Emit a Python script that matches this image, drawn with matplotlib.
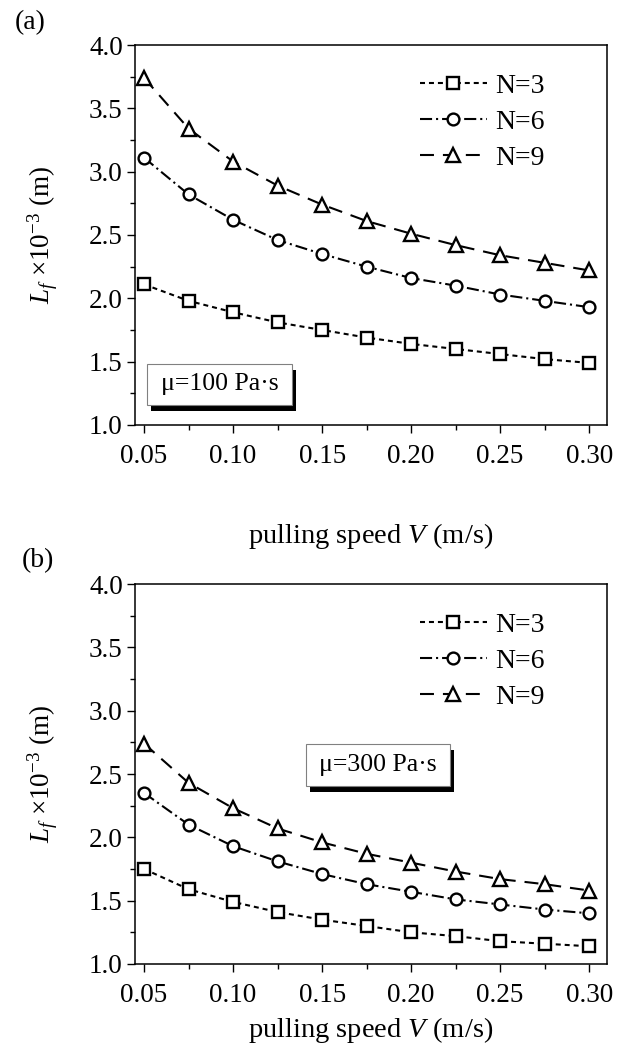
import numpy as np
import matplotlib
matplotlib.use("Agg")
import matplotlib.pyplot as plt
import matplotlib.patches as mpatches
from matplotlib.ticker import MultipleLocator

plt.rcParams['font.family'] = ['Liberation Serif', 'DejaVu Serif']
plt.rcParams['mathtext.fontset'] = 'custom'
plt.rcParams['mathtext.rm'] = 'Liberation Serif'
plt.rcParams['mathtext.it'] = 'Liberation Serif:italic'

# pulling speed V (m/s)
speed = [0.05, 0.075, 0.10, 0.125, 0.15, 0.175, 0.20, 0.225, 0.25, 0.275, 0.30]

# panel (a), mu = 100 Pa.s
a_n3 = [2.11, 1.98, 1.89, 1.81, 1.75, 1.69, 1.64, 1.60, 1.56, 1.52, 1.49]
a_n6 = [3.11, 2.82, 2.62, 2.46, 2.35, 2.25, 2.16, 2.10, 2.03, 1.98, 1.93]
a_n9 = [3.74, 3.34, 3.08, 2.89, 2.74, 2.61, 2.51, 2.42, 2.34, 2.28, 2.22]

# panel (b), mu = 300 Pa.s
b_n3 = [1.75, 1.59, 1.49, 1.41, 1.35, 1.30, 1.25, 1.22, 1.18, 1.16, 1.14]
b_n6 = [2.35, 2.10, 1.93, 1.81, 1.71, 1.63, 1.57, 1.51, 1.47, 1.43, 1.40]
b_n9 = [2.74, 2.43, 2.23, 2.07, 1.96, 1.87, 1.80, 1.73, 1.67, 1.63, 1.58]

labels = ['N=3', 'N=6', 'N=9']
markers = ['s', 'o', '^']
dashes = [(2.4, 1.9), (5.8, 1.9, 1, 1.9), (6.7, 4.3)]

fig = plt.figure(figsize=(6.17, 10.54), dpi=100)
ax1 = fig.add_axes([0.2188, 0.5968, 0.765, 0.3605])
ax2 = fig.add_axes([0.2188, 0.0854, 0.765, 0.3605])


def draw(ax, series, note, box, xpad):
    for ys, lab, m, d in zip(series, labels, markers, dashes):
        ax.plot(speed, ys, color='k', lw=1.5, dashes=d, marker=m,
                markersize=8.5 if m != '^' else 10, markerfacecolor='white',
                markeredgecolor='k', markeredgewidth=1.7, label=lab,
                clip_on=False, zorder=3)
    ax.set_xlim(0.0449, 0.310)
    ax.set_ylim(1.0, 4.0)
    ax.xaxis.set_major_locator(MultipleLocator(0.05))
    ax.xaxis.set_minor_locator(MultipleLocator(0.025))
    ax.yaxis.set_major_locator(MultipleLocator(0.5))
    ax.yaxis.set_minor_locator(MultipleLocator(0.25))
    ax.xaxis.set_major_formatter(plt.FormatStrFormatter('%.2f'))
    ax.yaxis.set_major_formatter(plt.FormatStrFormatter('%.1f'))
    ax.tick_params(which='both', direction='out', top=False, right=False,
                   labelsize=19.5, width=1)
    ax.tick_params(which='major', length=5.8)
    ax.tick_params(which='minor', length=3.8)
    ax.tick_params(axis='x', pad=8)
    ax.tick_params(axis='y', pad=3)
    for s in ax.spines.values():
        s.set_linewidth(1.1)
    ax.set_ylabel(r'$L_f$ ×10$^{-3}$ (m)', fontsize=19.5, labelpad=21)
    ax.set_xlabel(r'pulling speed $V$ (m/s)', fontsize=20.5, labelpad=xpad)
    ax.legend(loc='upper left', bbox_to_anchor=(0.604, 0.926), frameon=False,
              fontsize=20, handlelength=2.4, handletextpad=0.3,
              labelspacing=0.39, borderpad=0, borderaxespad=0, numpoints=1)
    x0, y0, x1, y1 = box
    shadow = mpatches.Rectangle((x0 + 0.0085, y0 - 0.0158), x1 - x0, y1 - y0,
                                transform=ax.transAxes, facecolor='k',
                                edgecolor='none', zorder=4)
    frame = mpatches.Rectangle((x0, y0), x1 - x0, y1 - y0,
                               transform=ax.transAxes, facecolor='white',
                               edgecolor='0.5', linewidth=0.8, zorder=5)
    ax.add_patch(shadow)
    ax.add_patch(frame)
    ax.text((x0 + x1) / 2, (y0 + y1) / 2, note, transform=ax.transAxes,
            fontsize=18.5, ha='center', va='center', zorder=6)


draw(ax1, [a_n3, a_n6, a_n9], 'μ=100 Pa·s', (0.0254, 0.0526, 0.333, 0.1605), 37)
draw(ax2, [b_n3, b_n6, b_n9], 'μ=300 Pa·s', (0.362, 0.468, 0.667, 0.579), 5)

fig.text(0.024, 0.979, '(a)', fontsize=20, ha='left', va='center')
fig.text(0.036, 0.468, '(b)', fontsize=20, ha='left', va='center')

fig.savefig('out.png', dpi=100)
